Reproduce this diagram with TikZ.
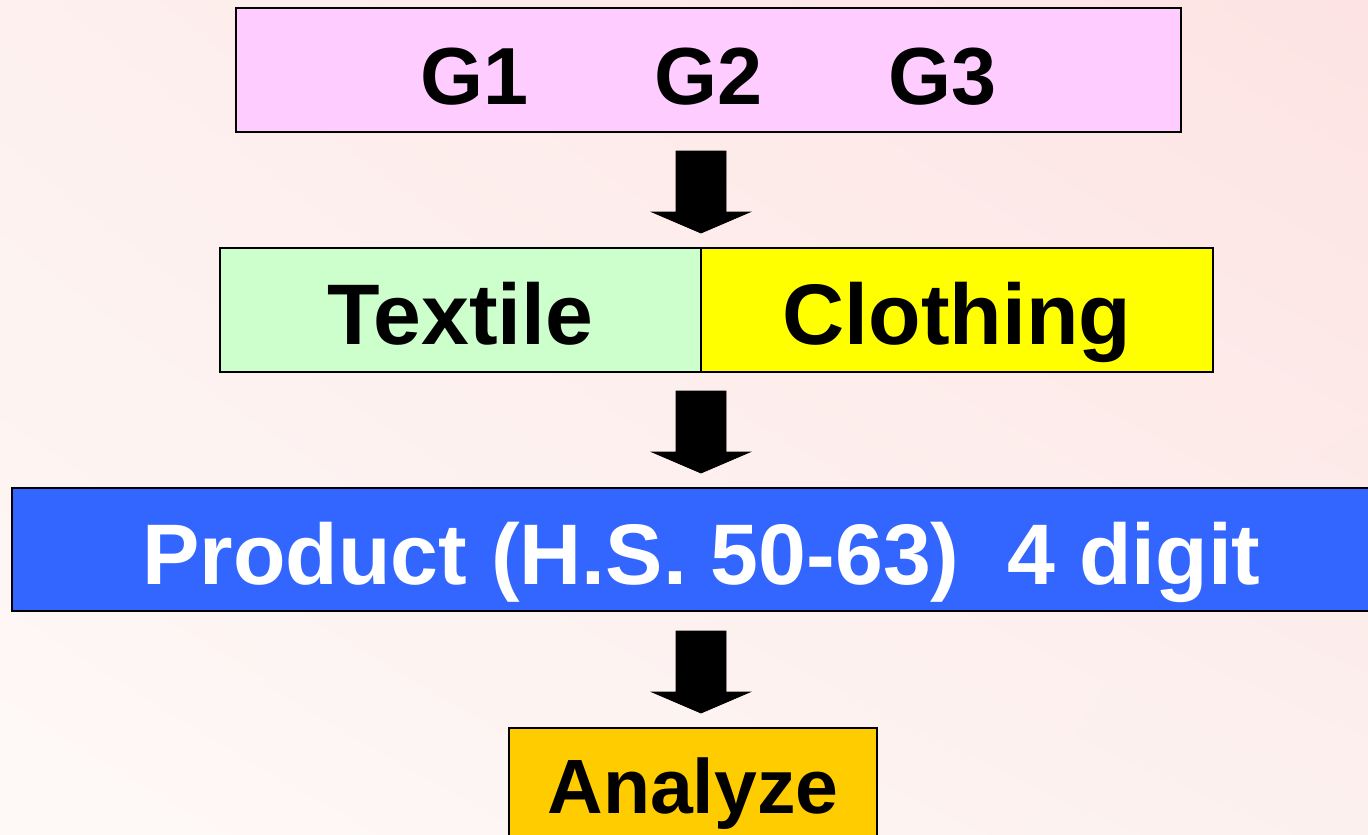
\documentclass[tikz,border=0pt]{standalone}
\usepackage{fontspec}
\setmainfont{Liberation Sans}
\usetikzlibrary{calc,shadings}
\definecolor{bgTL}{HTML}{FDF0EE}
\definecolor{bgTR}{HTML}{FDE3E3}
\definecolor{bgBL}{HTML}{FEF9F7}
\definecolor{bgBR}{HTML}{FCF0EE}
\definecolor{gpink}{HTML}{FFCCFF}
\definecolor{tgreen}{HTML}{CCFFCC}
\definecolor{cyellow}{HTML}{FFFF00}
\definecolor{pblue}{HTML}{3366FF}
\definecolor{aorange}{HTML}{FFCC00}
\tikzset{
  boxstyle/.style={draw=black, line width=2pt, inner sep=0pt, outer sep=0pt,
    font=\fontsize{86}{100}\selectfont\bfseries, text depth=0pt, text height=68pt},
  blockarrow/.style={fill=black, draw=black, line width=0.8pt, line join=miter}
}
\begin{document}
\begin{tikzpicture}[x=1pt,y=-1pt]
\useasboundingbox (0,0) rectangle (1368,835);
\shade[upper left=bgTL, upper right=bgTR, lower left=bgBL, lower right=bgBR] (0,0) rectangle (1368,835);
\begin{scope}
\clip (0,0) rectangle (1368,835);
\node[boxstyle, fill=gpink, minimum width=945pt, minimum height=124pt, text height=68pt, font=\fontsize{81}{97}\selectfont\bfseries] (gbox) at (708.5,70) {G1\hspace{126pt}G2\hspace{126pt}G3};
\node[boxstyle, fill=tgreen, minimum width=481pt, minimum height=124pt] (textile) at (460.5,310) {Textile};
\node[boxstyle, fill=cyellow, minimum width=512pt, minimum height=124pt] (clothing) at (957,310) {Clothing};
\node[boxstyle, fill=pblue, text=white, minimum width=1379pt, minimum height=123pt, text height=69pt] (product) at (701.5,549.5) {Product (H.S. 50-63)~ 4 digit};
\node[boxstyle, fill=aorange, minimum width=368pt, minimum height=130pt, text height=41pt, font=\fontsize{77}{90}\selectfont\bfseries] (analyze) at (693,793) {Analyze};
\end{scope}
% block arrows
\filldraw[blockarrow] ($(gbox.south -| textile.north east)+(-25,19)$) -- ++(50,0) -- ++(0,61) -- ++(24,0)
  -- ($(textile.north east)+(0,-15)$) -- ++(-49,-21) -- ++(24,0) -- cycle;
\filldraw[blockarrow] ($(textile.south east)+(-25,19)$) -- ++(50,0) -- ++(0,61) -- ++(24,0)
  -- ($(product.north -| textile.south east)+(0,-15)$) -- ++(-49,-21) -- ++(24,0) -- cycle;
\filldraw[blockarrow] ($(product.south -| textile.south east)+(-25,20)$) -- ++(50,0) -- ++(0,61) -- ++(24,0)
  -- ($(analyze.north -| textile.south east)+(0,-15)$) -- ++(-49,-21) -- ++(24,0) -- cycle;
\end{tikzpicture}
\end{document}
